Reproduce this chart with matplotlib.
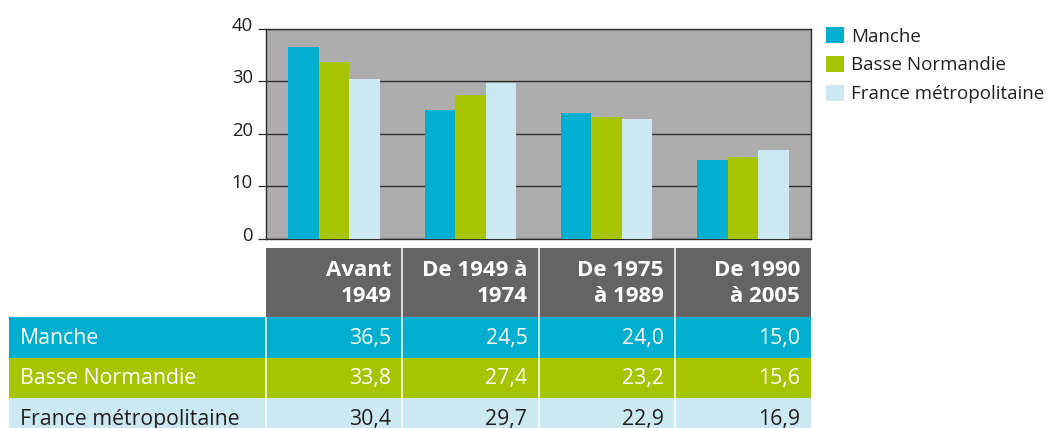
import matplotlib
matplotlib.use("Agg")
import numpy as np
import matplotlib.pyplot as plt
from matplotlib.patches import Rectangle, Patch
from matplotlib.transforms import ScaledTranslation

plt.rcParams['font.family'] = ['Open Sans', 'DejaVu Sans']

# ---------------- data ----------------
categories = ["Avant\n1949", "De 1949 à\n1974", "De 1975\nà 1989", "De 1990\nà 2005"]
series_names = ["Manche", "Basse Normandie", "France métropolitaine"]
manche = [36.5, 24.5, 24.0, 15.0]
basse_normandie = [33.8, 27.4, 23.2, 15.6]
france_metro = [30.4, 29.7, 22.9, 16.9]
y_ticks = [0, 10, 20, 30, 40]
y_tick_labels = ["0", "10", "20", "30", "40"]

series = [manche, basse_normandie, france_metro]

# ---------------- style ----------------
colors = ["#00AECF", "#A6C400", "#CCE8F0"]
text_colors = ["white", "white", "#231F20"]
plot_bg = "#ADADAD"
header_bg = "#646464"
line_col = "#2E2E2E"

W, H = 1047, 428
fig = plt.figure(figsize=(W / 100, H / 100), dpi=100)

# chart axes (pixel layout)
x0, x1 = 266, 811
y_top, y_bot = 29, 238.7
ax = fig.add_axes([x0 / W, (H - y_bot) / H, (x1 - x0) / W, (y_bot - y_top) / H])
ax.set_facecolor(plot_bg)
ax.set_xlim(-0.5, 3.5)
ax.set_ylim(0, 40)

x = np.arange(len(categories))
bw = 0.224
for k, (vals, c) in enumerate(zip(series, colors)):
    ax.bar(x + (k - 1) * bw, vals, width=bw, color=c, zorder=3, linewidth=0)

ax.set_yticks(y_ticks)
ax.set_yticklabels(y_tick_labels)
ax.set_xticks([])
ax.yaxis.grid(True, color=line_col, linewidth=1.0, zorder=1)
ax.set_axisbelow(True)
ax.tick_params(axis='y', length=5.8, width=0.9, color=line_col, pad=3.6,
               labelsize=13.3, labelcolor="#231F20")
off = ScaledTranslation(0, 5 / 100, fig.dpi_scale_trans)
for lab in ax.get_yticklabels():
    lab.set_transform(lab.get_transform() + off)
for s in ax.spines.values():
    s.set_color(line_col)
    s.set_linewidth(1.0)

# legend
handles = [Patch(facecolor=c, edgecolor='none') for c in colors]
fs_leg = 13.5
ax.legend(handles, series_names, loc='upper left',
          bbox_to_anchor=(826 / W, 1 - 27 / H), bbox_transform=fig.transFigure,
          frameon=False, borderpad=0, borderaxespad=0, fontsize=fs_leg,
          handlelength=0.96, handleheight=0.96, handletextpad=0.37,
          labelspacing=0.55, labelcolor="#231F20")

# ---------------- table ----------------
tx0, tx1 = 9, 811
t_top, t_bot = 248, 440
tax = fig.add_axes([tx0 / W, (H - t_bot) / H, (tx1 - tx0) / W, (t_bot - t_top) / H])
unit = (x1 - x0) / 4.0
left_lim = -0.5 - (x0 - tx0) / unit
tax.set_xlim(left_lim, 3.5)
tax.set_ylim(t_bot - t_top, 0)
tax.axis('off')

header_h = 69
row_h = 40.5
pad = 11 / unit
sep_lw = 1.1

for i, cat in enumerate(categories):
    tax.add_patch(Rectangle((i - 0.5, 0), 1, header_h, facecolor=header_bg,
                            edgecolor='none'))
    tax.text(i + 0.5 - pad, header_h / 2 + 1, cat, ha='right', va='center',
             multialignment='right', color='white', fontsize=16,
             fontweight='bold', linespacing=1.3)

for r, (name, vals, c, tc) in enumerate(zip(series_names, series, colors, text_colors)):
    y = header_h + r * row_h
    tax.add_patch(Rectangle((left_lim, y), 3.5 - left_lim, row_h, facecolor=c,
                            edgecolor='none'))
    tax.text(left_lim + pad, y + row_h / 2 + 1, name, ha='left', va='center',
             color=tc, fontsize=15.3)
    for i, v in enumerate(vals):
        tax.text(i + 0.5 - pad, y + row_h / 2 + 1, f"{v:.1f}".replace('.', ','),
                 ha='right', va='center', color=tc, fontsize=15.3)

# white column separators
tax.vlines([-0.5], header_h, t_bot - t_top, colors='white', linewidth=sep_lw, zorder=5)
tax.vlines([0.5, 1.5, 2.5], 0, t_bot - t_top, colors='white', linewidth=sep_lw, zorder=5)

fig.savefig("out.png", dpi=100)
